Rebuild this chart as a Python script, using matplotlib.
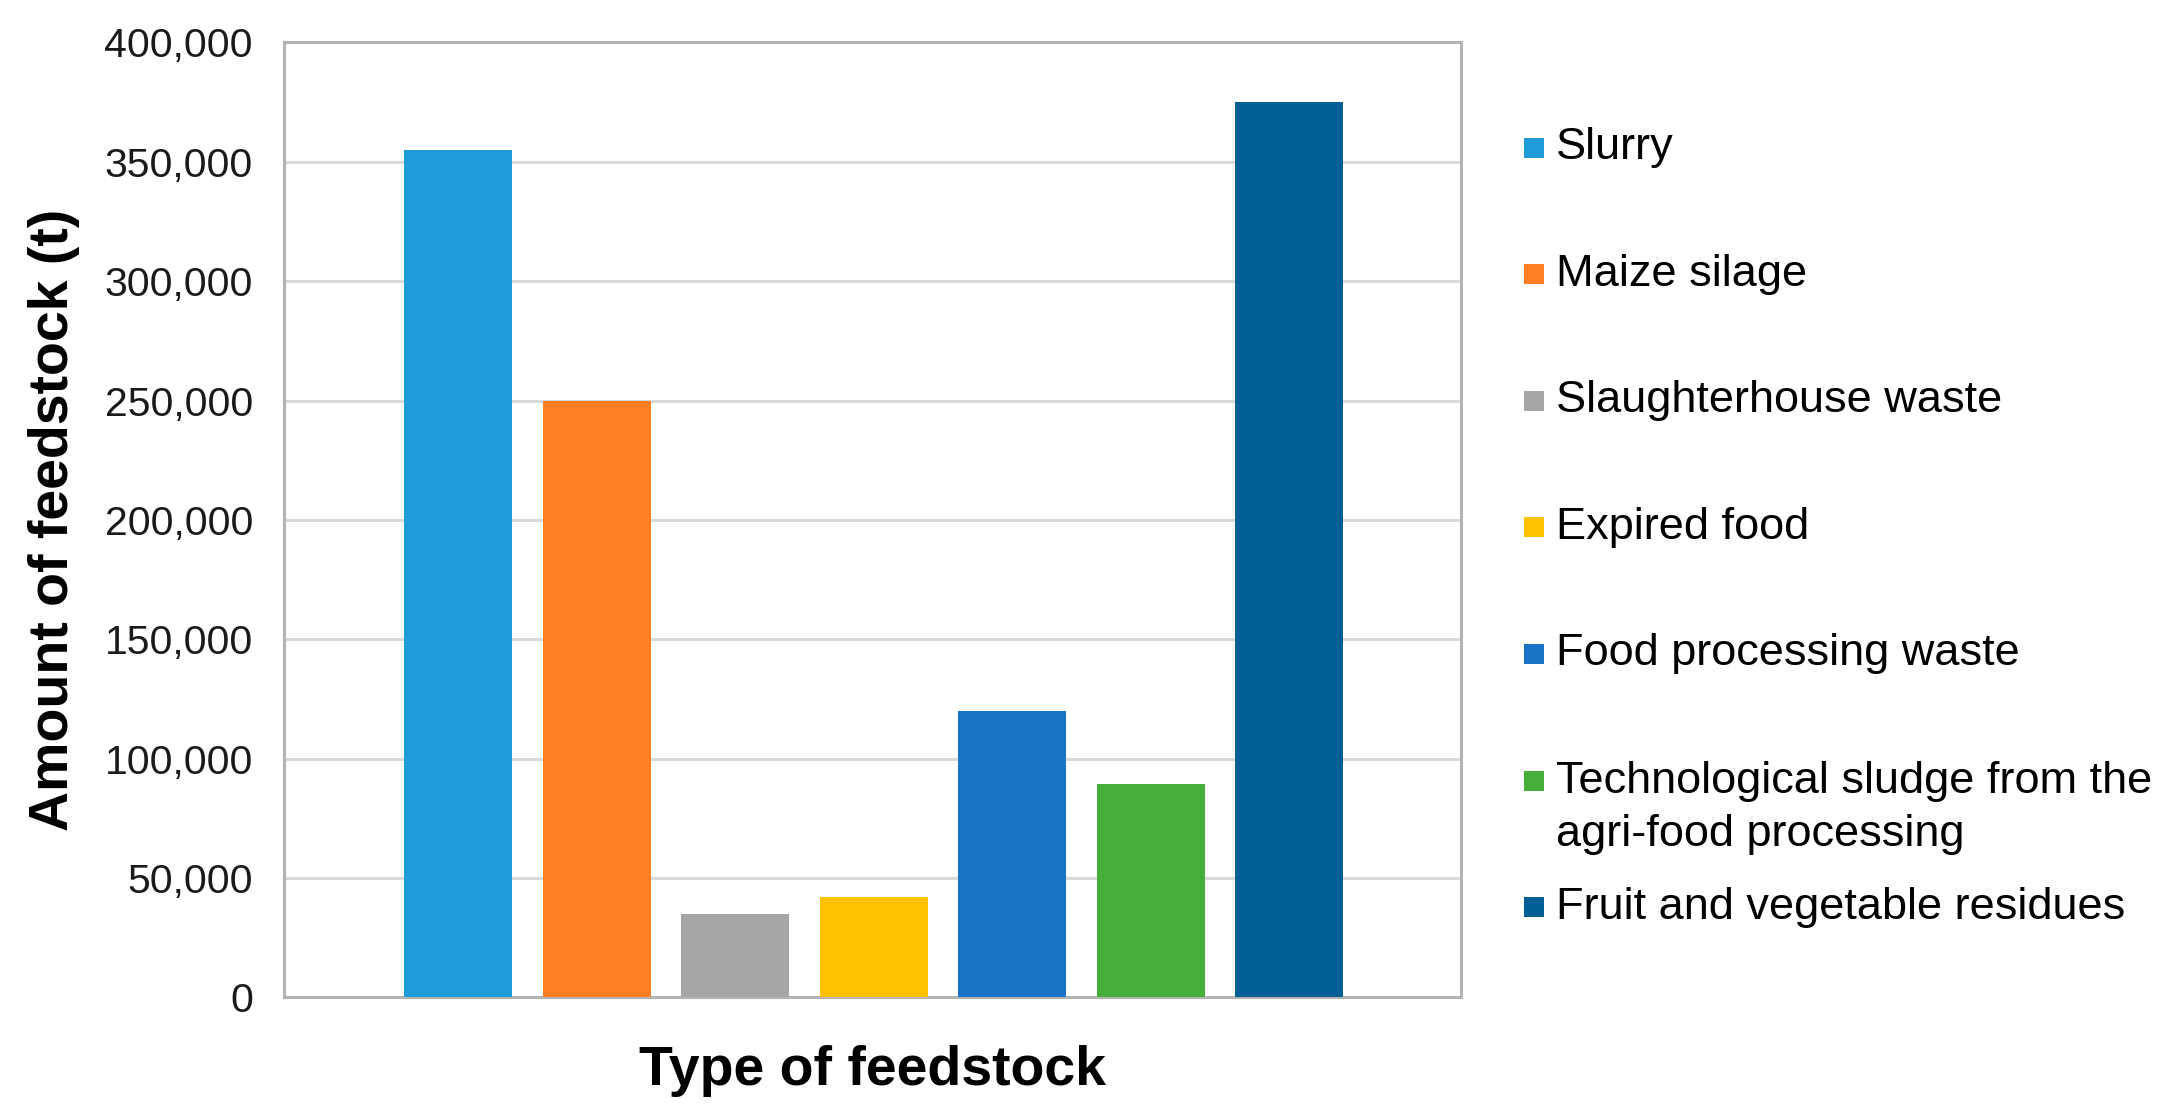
import matplotlib.pyplot as plt
from matplotlib.patches import Rectangle
from matplotlib.ticker import FuncFormatter

plt.rcParams['font.family'] = ['Liberation Sans', 'DejaVu Sans']

# Datos
categorias = ["Slurry", "Maize silage", "Slaughterhouse waste", "Expired food",
              "Food processing waste",
              "Technological sludge from the\nagri-food processing",
              "Fruit and vegetable residues"]
valores = [355000, 250000, 35000, 42000, 120000, 89500, 375000]
colores = ["#1F9BD7", "#FF7F24", "#A6A6A6", "#FFC000", "#1A73C6", "#46AF3A", "#005F94"]
yticks = list(range(0, 400001, 50000))

fig = plt.figure(figsize=(21.81, 11.18), dpi=100)
ax = fig.add_axes([0.130, 0.108, 0.540, 0.854])

x = list(range(len(valores)))
ax.bar(x, valores, width=0.78, color=colores, zorder=3)

ax.set_xlim(-1.26, 7.24)
ax.set_ylim(0, 400000)
ax.set_yticks(yticks)
ax.yaxis.set_major_formatter(FuncFormatter(lambda v, p: "{:,.0f}".format(v)))
ax.set_xticks([])
ax.tick_params(axis='y', length=0, pad=22, labelsize=29.5, labelcolor="#1a1a1a")
ax.grid(axis='y', color="#D9D9D9", linewidth=2.2, zorder=0)

for s in ax.spines.values():
    s.set_color("#B3B3B3")
    s.set_linewidth(2.2)

ax.set_ylabel("Amount of feedstock (t)", fontsize=40, fontweight='bold')
ax.yaxis.set_label_coords(-0.173, 0.5)
ax.set_xlabel("Type of feedstock", fontsize=40, fontweight='bold')
ax.xaxis.set_label_coords(0.5, -0.05)

# Leyenda manual (una entrada por categoria)
W, H = 2181.0, 1118.0
y0, paso = 147.5, 126.6
for i, (nombre, c) in enumerate(zip(categorias, colores)):
    yc = y0 + paso * i
    fig.patches.append(Rectangle((1524 / W, 1 - (yc + 10) / H), 20 / W, 20 / H,
                                 transform=fig.transFigure, facecolor=c,
                                 edgecolor='none'))
    if "\n" in nombre:
        fig.text(1556 / W, 1 - (yc - 20) / H, nombre, fontsize=32.5, va='top',
                 ha='left', linespacing=1.4)
    else:
        fig.text(1556 / W, 1 - yc / H, nombre, fontsize=32.5, va='center', ha='left')

fig.savefig("out.png", dpi=100)
